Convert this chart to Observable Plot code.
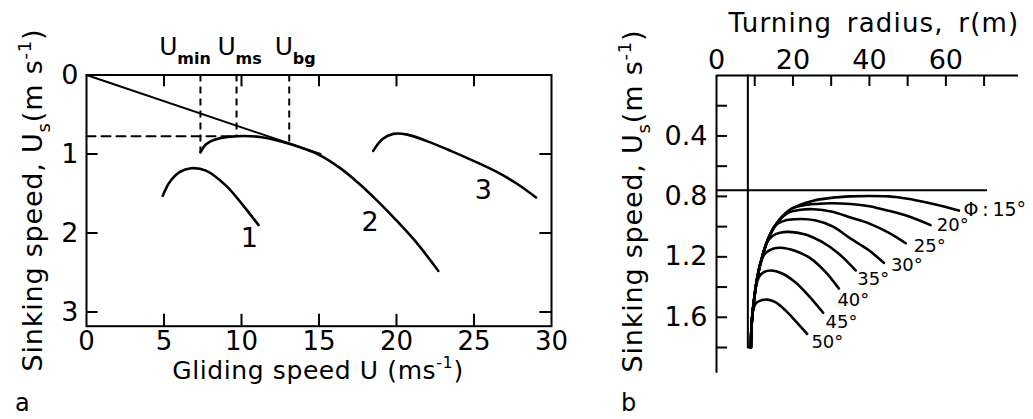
<!DOCTYPE html>
<html><head><meta charset="utf-8">
<script src="https://cdn.jsdelivr.net/npm/d3@7"></script>
<script src="https://cdn.jsdelivr.net/npm/@observablehq/plot@0.6"></script>
<style>
body{margin:0;background:#fff;}
#wrap{position:relative;width:1033px;height:419px;overflow:hidden;background:#fff;}
#wrap svg{position:absolute;top:0;}
</style></head><body><div id="wrap"></div>
<script>
// ---------- Panel a : sinking speed vs gliding speed ----------
const speedTicksA = [0, 5, 10, 15, 20, 25, 30];
const speedMinorA = [5, 10, 15, 20, 25];
const sinkTicksA = [0, 1, 2, 3];
const sinkMinorA = [1, 2, 3];
const curve1 = [[4.92,1.53],[5.35,1.36],[6.0,1.23],[6.75,1.18],[7.7,1.21],[9.0,1.40],[10.1,1.65],[11.1,1.90]];
const curve2 = [[7.35,0.98],[7.6,0.90],[8.0,0.84],[8.6,0.80],[9.7,0.775],[11.2,0.785],[12.9,0.86],[14.0,0.93],[15.1,1.02],[16.3,1.17],[17.5,1.36],[18.7,1.58],[19.9,1.82],[21.2,2.10],[22.7,2.48]];
const curve3 = [[18.5,0.96],[19.1,0.81],[19.8,0.745],[20.7,0.755],[22.0,0.84],[23.5,0.96],[25.0,1.09],[26.5,1.23],[27.8,1.38],[29.0,1.55]];
const tangentLine = [[0,0],[15.1,1.0]];
const minSinkLine = [[0,0.775],[9.68,0.775]];
const refSpeeds = [7.35, 9.68, 13.08];
const refSinks = [0.98, 0.775, 0.87];
const refNames = ["min", "ms", "bg"];
const refLabelSpeed = [4.7, 8.45, 12.15];
const curveNamesA = ["1", "2", "3"];
const curveNameSpeed = [10.5, 18.3, 25.6];
const curveNameSink = [2.07, 1.86, 1.46];

// ---------- Panel b : sinking speed vs turning radius ----------
const radiusTicksB = [0, 20, 40, 60];
const radiusMinorB = [10, 20, 30, 40, 50, 60, 70];
const sinkTicksB = [0.4, 0.8, 1.2, 1.6];
const sinkMinorB = [0.2, 0.4, 0.6, 0.8, 1.0, 1.2, 1.4, 1.6, 1.8];
const straightGlideSink = 0.76;
const stallLine = [[8.2,0],[8.2,1.80],[9.0,1.80]];
const phi15 = [[9.0,1.80],[9.2,1.64],[9.8,1.49],[10.65,1.34],[11.96,1.20],[13.7,1.07],[16.3,0.96],[19.8,0.88],[25.1,0.83],[30.0,0.81],[35.0,0.80],[40.0,0.797],[45.0,0.80],[50.0,0.815],[55.0,0.84],[60.0,0.87],[63.4,0.894]];
const phi20 = [[9.0,1.80],[9.2,1.64],[9.8,1.49],[10.65,1.34],[11.96,1.20],[13.7,1.07],[16.3,0.96],[19.8,0.88],[22.6,0.86],[26.0,0.85],[30.0,0.845],[35.1,0.85],[40.0,0.865],[45.0,0.895],[50.0,0.93],[56.0,0.99]];
const phi25 = [[9.0,1.80],[9.2,1.64],[9.8,1.49],[10.65,1.34],[11.96,1.20],[13.7,1.07],[16.3,0.96],[18.6,0.91],[21.6,0.89],[25.5,0.885],[30.0,0.90],[35.1,0.94],[40.0,0.98],[45.0,1.04],[49.5,1.11]];
const phi30 = [[9.0,1.80],[9.2,1.64],[9.8,1.49],[10.65,1.34],[11.96,1.20],[13.7,1.07],[15.3,0.995],[17.6,0.962],[22.0,0.95],[26.0,0.96],[30.5,1.00],[35.1,1.08],[39.5,1.15],[43.8,1.24]];
const phi35 = [[9.0,1.80],[9.2,1.64],[9.8,1.49],[10.65,1.34],[11.96,1.20],[13.1,1.11],[14.7,1.06],[16.6,1.04],[18.9,1.035],[23.0,1.05],[27.5,1.10],[32.0,1.18],[36.4,1.29]];
const phi40 = [[9.0,1.80],[9.2,1.64],[9.8,1.49],[10.65,1.34],[11.6,1.23],[12.8,1.175],[14.6,1.148],[16.8,1.14],[20.5,1.16],[24.6,1.21],[28.5,1.30],[32.0,1.41]];
const phi45 = [[9.0,1.80],[9.2,1.64],[9.8,1.49],[10.4,1.385],[11.2,1.33],[12.5,1.30],[14.2,1.29],[17.2,1.31],[20.7,1.37],[24.2,1.46],[27.9,1.57]];
const phi50 = [[9.0,1.80],[9.2,1.66],[9.6,1.55],[10.4,1.505],[11.8,1.487],[13.4,1.483],[15.4,1.50],[18.1,1.556],[20.7,1.625],[23.7,1.71]];
const bankLabels = ["\u03A6\u2009:\u200915°", "20°", "25°", "30°", "35°", "40°", "45°", "50°"];
const bankLabelRadius = [64.6, 61.8, 55.8, 49.8, 41.0, 35.8, 32.7, 29.0];
const bankLabelSink = [0.887, 0.99, 1.13, 1.255, 1.345, 1.49, 1.63, 1.765];

const FONT = "DejaVu Sans";
const baseStyle = {fontFamily: FONT, fontSize: "27px", color: "black", background: "transparent", overflow: "visible"};
const lw = 2;
const cw = 2.6;
const line = (d) => Plot.line(d, {x: (p) => p[0], y: (p) => p[1], stroke: "black", strokeWidth: cw, curve: "catmull-rom", strokeLinecap: "round"});

const refData = refSpeeds.map((u, i) => ({u, s: refSinks[i], name: refNames[i], lx: refLabelSpeed[i]}));
const curveNameData = curveNamesA.map((t, i) => ({t, x: curveNameSpeed[i], y: curveNameSink[i]}));

const yMaxA = 3.18;
const plotA = Plot.plot({
  width: 560, height: 419,
  marginLeft: 86, marginRight: 9, marginTop: 74.5, marginBottom: 93.3,
  x: {domain: [0, 30]},
  y: {domain: [0, yMaxA], reverse: true},
  style: baseStyle,
  marks: [
    Plot.frame({stroke: "black", strokeWidth: lw}),
    Plot.ruleY(sinkMinorA, {x1: 0, x2: 0.75, strokeWidth: lw}),
    Plot.ruleY(sinkMinorA, {x1: 29.25, x2: 30, strokeWidth: lw}),
    Plot.ruleX(speedMinorA, {y1: 0, y2: 0.15, strokeWidth: lw}),
    Plot.ruleX(speedMinorA, {y1: yMaxA - 0.15, y2: yMaxA, strokeWidth: lw}),
    Plot.axisX({ticks: speedTicksA, tickSize: 0, tickPadding: 5, label: null, fontSize: 26, tickFormat: d3.format("d")}),
    Plot.axisY({ticks: sinkTicksA, tickSize: 0, tickPadding: 8, label: null, fontSize: 27, tickFormat: d3.format("d")}),
    Plot.ruleX(refData, {x: "u", y1: 0, y2: "s", strokeDasharray: "7,5", strokeWidth: lw}),
    Plot.line(minSinkLine, {x: (p) => p[0], y: (p) => p[1], stroke: "black", strokeWidth: lw, strokeDasharray: "9,6"}),
    Plot.line(tangentLine, {x: (p) => p[0], y: (p) => p[1], stroke: "black", strokeWidth: lw}),
    line(curve1), line(curve2), line(curve3),
    Plot.text(curveNameData, {x: "x", y: "y", text: "t", fontSize: 27}),
    Plot.text(refData, {x: "lx", y: -0.25, text: () => "U", textAnchor: "start", lineAnchor: "bottom", fontSize: 25}),
    Plot.text(refData, {x: "lx", y: -0.25, text: "name", textAnchor: "start", lineAnchor: "bottom", fontSize: 16, fontWeight: "bold", dx: 18, dy: 9})
  ]
});

const bankData = bankLabels.map((t, i) => ({t, x: bankLabelRadius[i], y: bankLabelSink[i], a: i === 0 ? "start" : "middle"}));
const yMaxB = 1.97;
const xMaxB = 79;
const plotB = Plot.plot({
  width: 473, height: 419,
  marginLeft: 156, marginRight: 15, marginTop: 75, marginBottom: 46.3,
  x: {domain: [0, xMaxB]},
  y: {domain: [0, yMaxB], reverse: true},
  style: baseStyle,
  marks: [
    Plot.ruleX([0], {y1: 0, y2: yMaxB, strokeWidth: lw}),
    Plot.ruleY([0], {x1: 0, x2: xMaxB, strokeWidth: lw}),
    Plot.ruleX(radiusMinorB, {y1: 0, y2: 0.073, strokeWidth: lw}),
    Plot.ruleY(sinkMinorB, {x1: 0, x2: 2.9, strokeWidth: lw}),
    Plot.axisX({anchor: "top", ticks: radiusTicksB, tickSize: 0, tickPadding: 7, label: null, fontSize: 27, tickFormat: d3.format("d")}),
    Plot.axisY({anchor: "left", ticks: sinkTicksB, tickSize: 0, tickPadding: 9, label: null, fontSize: 27, tickFormat: d3.format(".1f")}),
    Plot.ruleY([straightGlideSink], {x1: 0, x2: 70.9, strokeWidth: lw}),
    Plot.line(stallLine, {x: (p) => p[0], y: (p) => p[1], stroke: "black", strokeWidth: lw}),
    line(phi15), line(phi20), line(phi25), line(phi30), line(phi35), line(phi40), line(phi45), line(phi50),
    Plot.text(bankData.filter((d) => d.a === "start"), {x: "x", y: "y", text: "t", textAnchor: "start", fontSize: 19}),
    Plot.text(bankData.filter((d) => d.a === "middle"), {x: "x", y: "y", text: "t", fontSize: 18})
  ]
});

function richText(svg, {x, y, rotate = 0, size, anchor = "middle", parts, letterSpacing = 0, wordSpacing = 0}) {
  const t = d3.select(svg).append("text")
    .attr("transform", `translate(${x},${y}) rotate(${rotate})`)
    .attr("text-anchor", anchor)
    .attr("font-family", FONT)
    .attr("font-size", size)
    .attr("fill", "black")
    .style("letter-spacing", letterSpacing + "px")
    .style("word-spacing", wordSpacing + "px");
  let shift = 0;
  for (const [s, m] of parts) {
    const target = m === "sub" ? 8 : m === "sup" ? -11 : 0;
    t.append("tspan").attr("dy", target - shift).attr("font-size", m ? Math.round(size * 0.65) : size).text(s);
    shift = target;
  }
  return t;
}

const sinkTitle = [["Sinking speed, U", ""], ["s", "sub"], ["(m s", ""], ["-1", "sup"], [")", ""]];
richText(plotA, {x: 318, y: 379, size: 25, parts: [["Gliding speed U (ms", ""], ["-1", "sup"], [")", ""]], letterSpacing: 0.6});
richText(plotA, {x: 42, y: 200, rotate: -90, size: 27, parts: sinkTitle, letterSpacing: 0.8});
richText(plotA, {x: 15, y: 411, size: 24, anchor: "start", parts: [["a", ""]]});

richText(plotB, {x: 314, y: 31.7, size: 26, parts: [["Turning radius, r(m)", ""]], letterSpacing: 1.2, wordSpacing: 5});
richText(plotB, {x: 82, y: 201, rotate: -90, size: 27, parts: sinkTitle, letterSpacing: 0.8});
richText(plotB, {x: 61, y: 411, size: 24, anchor: "start", parts: [["b", ""]]});

plotA.style.left = "0px";
plotB.style.left = "560px";
const wrap = document.getElementById("wrap");
wrap.appendChild(plotA);
wrap.appendChild(plotB);
</script></body></html>
